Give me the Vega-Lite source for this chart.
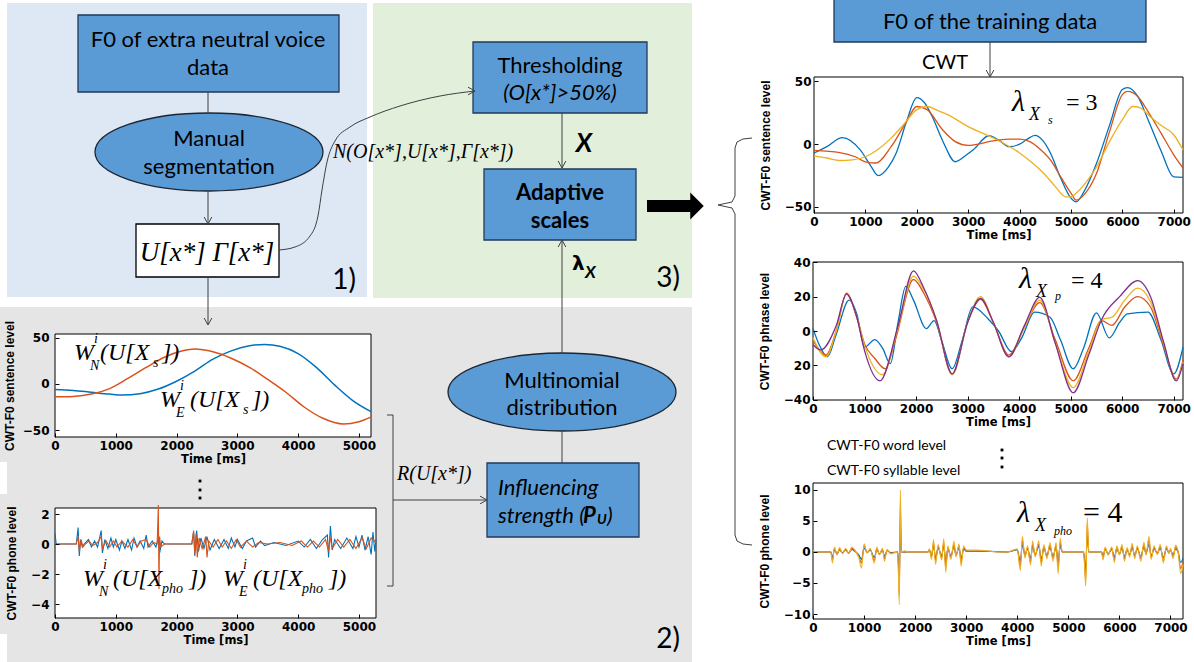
{
"$schema":"https://vega.github.io/schema/vega-lite/v6.json",
"width":1194,"height":662,"padding":0,"autosize":{"type":"none"},
"background":"white",
"config":{"view":{"stroke":null},
 "axis":{"zindex":1,"format":"d","labelFont":"DejaVu Sans","labelFontWeight":"bold","labelFontSize":12,"labelColor":"#000","titleFontWeight":"bold","titleColor":"#000","domain":false,"grid":false,"tickColor":"#000","tickSize":-4,"labelPadding":7,"labelFlush":false,"labelOverlap":false,"titlePadding":2},
 "axisX":{"titleFont":"DejaVu Sans","titleFontSize":11.5},
 "axisY":{"titleFont":"Liberation Sans","titleFontSize":12}},
"resolve":{"scale":{"x":"independent","y":"independent","color":"independent"},"axis":{"x":"independent","y":"independent"}},
"datasets":{
"lt":[{"t":0,"v":-6,"s":"1"},{"t":300,"v":-7,"s":"1"},{"t":600,"v":-9,"s":"1"},{"t":900,"v":-11,"s":"1"},{"t":1100,"v":-12,"s":"1"},{"t":1400,"v":-10.5,"s":"1"},{"t":1700,"v":-5.5,"s":"1"},{"t":2000,"v":3,"s":"1"},{"t":2300,"v":14,"s":"1"},{"t":2600,"v":27,"s":"1"},{"t":2900,"v":36,"s":"1"},{"t":3200,"v":41.5,"s":"1"},{"t":3450,"v":43,"s":"1"},{"t":3700,"v":41,"s":"1"},{"t":4000,"v":33,"s":"1"},{"t":4300,"v":18,"s":"1"},{"t":4600,"v":-1,"s":"1"},{"t":4900,"v":-18,"s":"1"},{"t":5200,"v":-30,"s":"1"},
{"t":0,"v":-14,"s":"2"},{"t":300,"v":-13.5,"s":"2"},{"t":600,"v":-11,"s":"2"},{"t":900,"v":-5,"s":"2"},{"t":1200,"v":6,"s":"2"},{"t":1500,"v":18,"s":"2"},{"t":1800,"v":29,"s":"2"},{"t":2100,"v":36,"s":"2"},{"t":2300,"v":38,"s":"2"},{"t":2600,"v":35,"s":"2"},{"t":2900,"v":28,"s":"2"},{"t":3200,"v":18,"s":"2"},{"t":3500,"v":5,"s":"2"},{"t":3800,"v":-9,"s":"2"},{"t":4100,"v":-25,"s":"2"},{"t":4400,"v":-37,"s":"2"},{"t":4750,"v":-43.5,"s":"2"},{"t":5000,"v":-41,"s":"2"},{"t":5200,"v":-36,"s":"2"}],
"lb":[{"t":0,"v":0.7,"s":"1"},{"t":20,"v":0,"s":"1"},{"t":350,"v":0,"s":"1"},{"t":380,"v":1.1,"s":"1"},{"t":400,"v":-0.8,"s":"1"},{"t":420,"v":0.3,"s":"1"},{"t":450,"v":-0.2,"s":"1"},{"t":480,"v":0,"s":"1"},{"t":550,"v":0.3,"s":"1"},{"t":600,"v":-0.2,"s":"1"},{"t":650,"v":0.2,"s":"1"},{"t":700,"v":-0.2,"s":"1"},{"t":760,"v":0.9,"s":"1"},{"t":780,"v":-0.6,"s":"1"},{"t":820,"v":0.3,"s":"1"},{"t":870,"v":-0.3,"s":"1"},{"t":920,"v":0.4,"s":"1"},{"t":960,"v":-0.2,"s":"1"},{"t":1000,"v":0.3,"s":"1"},{"t":1060,"v":-0.4,"s":"1"},{"t":1100,"v":0.2,"s":"1"},{"t":1150,"v":-0.3,"s":"1"},{"t":1200,"v":0.3,"s":"1"},{"t":1260,"v":-0.4,"s":"1"},{"t":1300,"v":0.4,"s":"1"},{"t":1350,"v":-0.2,"s":"1"},{"t":1400,"v":0.2,"s":"1"},{"t":1460,"v":-0.3,"s":"1"},{"t":1500,"v":0.6,"s":"1"},{"t":1530,"v":-0.2,"s":"1"},{"t":1600,"v":0.2,"s":"1"},{"t":1660,"v":-0.2,"s":"1"},{"t":1700,"v":0.4,"s":"1"},{"t":1720,"v":-0.6,"s":"1"},{"t":1760,"v":0.2,"s":"1"},{"t":1800,"v":0,"s":"1"},{"t":2250,"v":0,"s":"1"},{"t":2280,"v":0.8,"s":"1"},{"t":2300,"v":-0.8,"s":"1"},{"t":2330,"v":0.9,"s":"1"},{"t":2360,"v":-0.5,"s":"1"},{"t":2400,"v":0.4,"s":"1"},{"t":2450,"v":-0.3,"s":"1"},{"t":2500,"v":0.5,"s":"1"},{"t":2550,"v":-0.4,"s":"1"},{"t":2620,"v":0.3,"s":"1"},{"t":2700,"v":-0.3,"s":"1"},{"t":2780,"v":0.3,"s":"1"},{"t":2850,"v":-0.3,"s":"1"},{"t":2900,"v":0.4,"s":"1"},{"t":2960,"v":-0.2,"s":"1"},{"t":3000,"v":0.3,"s":"1"},{"t":3080,"v":-0.3,"s":"1"},{"t":3150,"v":0.2,"s":"1"},{"t":3250,"v":0.4,"s":"1"},{"t":3300,"v":-0.2,"s":"1"},{"t":3380,"v":0.2,"s":"1"},{"t":3450,"v":-0.1,"s":"1"},{"t":3600,"v":0.1,"s":"1"},{"t":3800,"v":-0.1,"s":"1"},{"t":4000,"v":0.2,"s":"1"},{"t":4100,"v":-0.2,"s":"1"},{"t":4200,"v":0.3,"s":"1"},{"t":4300,"v":-0.3,"s":"1"},{"t":4400,"v":0.3,"s":"1"},{"t":4480,"v":0.6,"s":"1"},{"t":4500,"v":-0.9,"s":"1"},{"t":4530,"v":1.2,"s":"1"},{"t":4560,"v":-0.4,"s":"1"},{"t":4600,"v":0.3,"s":"1"},{"t":4700,"v":-0.3,"s":"1"},{"t":4800,"v":0.4,"s":"1"},{"t":4900,"v":-0.3,"s":"1"},{"t":4950,"v":0.5,"s":"1"},{"t":5000,"v":-0.2,"s":"1"},{"t":5050,"v":0.6,"s":"1"},{"t":5100,"v":-0.4,"s":"1"},{"t":5150,"v":0.5,"s":"1"},{"t":5200,"v":-0.7,"s":"1"},{"t":5230,"v":0.8,"s":"1"},{"t":5260,"v":-0.5,"s":"1"},{"t":5280,"v":0.3,"s":"1"},
{"t":0,"v":0,"s":"2"},{"t":350,"v":0,"s":"2"},{"t":380,"v":0.5,"s":"2"},{"t":400,"v":-0.5,"s":"2"},{"t":430,"v":0.3,"s":"2"},{"t":460,"v":-0.2,"s":"2"},{"t":500,"v":0,"s":"2"},{"t":560,"v":0.2,"s":"2"},{"t":620,"v":-0.1,"s":"2"},{"t":700,"v":0.1,"s":"2"},{"t":760,"v":0.5,"s":"2"},{"t":780,"v":-0.3,"s":"2"},{"t":840,"v":0.2,"s":"2"},{"t":900,"v":-0.2,"s":"2"},{"t":960,"v":0.2,"s":"2"},{"t":1020,"v":-0.2,"s":"2"},{"t":1100,"v":0.2,"s":"2"},{"t":1200,"v":-0.2,"s":"2"},{"t":1280,"v":0.3,"s":"2"},{"t":1350,"v":-0.2,"s":"2"},{"t":1420,"v":0.2,"s":"2"},{"t":1500,"v":0.3,"s":"2"},{"t":1560,"v":-0.2,"s":"2"},{"t":1620,"v":0.1,"s":"2"},{"t":1680,"v":0,"s":"2"},{"t":1700,"v":2.6,"s":"2"},{"t":1710,"v":-3,"s":"2"},{"t":1720,"v":0.5,"s":"2"},{"t":1740,"v":-0.2,"s":"2"},{"t":1800,"v":0,"s":"2"},{"t":2250,"v":0,"s":"2"},{"t":2280,"v":0.9,"s":"2"},{"t":2300,"v":-0.6,"s":"2"},{"t":2320,"v":0.7,"s":"2"},{"t":2340,"v":-0.9,"s":"2"},{"t":2370,"v":0.4,"s":"2"},{"t":2420,"v":-0.3,"s":"2"},{"t":2480,"v":0.5,"s":"2"},{"t":2500,"v":-0.9,"s":"2"},{"t":2530,"v":0.2,"s":"2"},{"t":2600,"v":-0.2,"s":"2"},{"t":2680,"v":0.3,"s":"2"},{"t":2750,"v":-0.2,"s":"2"},{"t":2820,"v":0.2,"s":"2"},{"t":2900,"v":-0.3,"s":"2"},{"t":2980,"v":0.3,"s":"2"},{"t":3050,"v":-0.2,"s":"2"},{"t":3150,"v":0.2,"s":"2"},{"t":3250,"v":-0.2,"s":"2"},{"t":3350,"v":0.1,"s":"2"},{"t":3500,"v":0,"s":"2"},{"t":3700,"v":0.1,"s":"2"},{"t":3900,"v":-0.1,"s":"2"},{"t":4050,"v":0.2,"s":"2"},{"t":4150,"v":-0.2,"s":"2"},{"t":4250,"v":0.2,"s":"2"},{"t":4350,"v":-0.2,"s":"2"},{"t":4450,"v":0.3,"s":"2"},{"t":4500,"v":-0.5,"s":"2"},{"t":4520,"v":0.5,"s":"2"},{"t":4560,"v":-0.3,"s":"2"},{"t":4650,"v":0.3,"s":"2"},{"t":4750,"v":-0.2,"s":"2"},{"t":4850,"v":0.3,"s":"2"},{"t":4950,"v":-0.3,"s":"2"},{"t":5050,"v":0.4,"s":"2"},{"t":5120,"v":-0.3,"s":"2"},{"t":5200,"v":0.4,"s":"2"},{"t":5280,"v":0.1,"s":"2"}],
"rt":[{"t":0,"v":-7,"s":"1"},{"t":250,"v":-2,"s":"1"},{"t":550,"v":5.3,"s":"1"},{"t":900,"v":-4.5,"s":"1"},{"t":1100,"v":-17,"s":"1"},{"t":1250,"v":-25,"s":"1"},{"t":1450,"v":-18,"s":"1"},{"t":1600,"v":-7,"s":"1"},{"t":1800,"v":18,"s":"1"},{"t":2000,"v":37,"s":"1"},{"t":2150,"v":33,"s":"1"},{"t":2300,"v":22,"s":"1"},{"t":2500,"v":3,"s":"1"},{"t":2750,"v":-14,"s":"1"},{"t":2950,"v":-9,"s":"1"},{"t":3100,"v":-4.5,"s":"1"},{"t":3400,"v":6.7,"s":"1"},{"t":3600,"v":3,"s":"1"},{"t":3800,"v":-2,"s":"1"},{"t":4000,"v":0,"s":"1"},{"t":4150,"v":4,"s":"1"},{"t":4300,"v":7,"s":"1"},{"t":4450,"v":3,"s":"1"},{"t":4600,"v":-7,"s":"1"},{"t":4800,"v":-27,"s":"1"},{"t":5000,"v":-43,"s":"1"},{"t":5100,"v":-46,"s":"1"},{"t":5250,"v":-38,"s":"1"},{"t":5500,"v":-15,"s":"1"},{"t":5750,"v":15,"s":"1"},{"t":6000,"v":43.5,"s":"1"},{"t":6100,"v":45,"s":"1"},{"t":6300,"v":38,"s":"1"},{"t":6500,"v":19.5,"s":"1"},{"t":6750,"v":-5,"s":"1"},{"t":7000,"v":-26,"s":"1"},{"t":7180,"v":-26.4,"s":"1"},
{"t":0,"v":-5,"s":"2"},{"t":500,"v":-6.7,"s":"2"},{"t":800,"v":-10,"s":"2"},{"t":1000,"v":-14,"s":"2"},{"t":1200,"v":-15,"s":"2"},{"t":1500,"v":-2,"s":"2"},{"t":1800,"v":18,"s":"2"},{"t":2000,"v":30,"s":"2"},{"t":2200,"v":27.5,"s":"2"},{"t":2500,"v":11.5,"s":"2"},{"t":2750,"v":2,"s":"2"},{"t":3000,"v":-1,"s":"2"},{"t":3200,"v":0,"s":"2"},{"t":3400,"v":2,"s":"2"},{"t":3800,"v":4,"s":"2"},{"t":4000,"v":4,"s":"2"},{"t":4200,"v":2,"s":"2"},{"t":4400,"v":-4,"s":"2"},{"t":4600,"v":-12.5,"s":"2"},{"t":4800,"v":-26,"s":"2"},{"t":5000,"v":-39,"s":"2"},{"t":5100,"v":-44.5,"s":"2"},{"t":5300,"v":-38,"s":"2"},{"t":5500,"v":-23,"s":"2"},{"t":5750,"v":10,"s":"2"},{"t":6000,"v":39.5,"s":"2"},{"t":6100,"v":42,"s":"2"},{"t":6300,"v":38,"s":"2"},{"t":6500,"v":26,"s":"2"},{"t":6750,"v":9,"s":"2"},{"t":7000,"v":-8.5,"s":"2"},{"t":7180,"v":-19,"s":"2"},
{"t":0,"v":-9.3,"s":"3"},{"t":250,"v":-11,"s":"3"},{"t":500,"v":-13,"s":"3"},{"t":750,"v":-12.5,"s":"3"},{"t":1000,"v":-10,"s":"3"},{"t":1250,"v":-4,"s":"3"},{"t":1500,"v":4.8,"s":"3"},{"t":1750,"v":16,"s":"3"},{"t":2000,"v":27.5,"s":"3"},{"t":2200,"v":30,"s":"3"},{"t":2400,"v":27,"s":"3"},{"t":2600,"v":23.5,"s":"3"},{"t":3000,"v":14,"s":"3"},{"t":3500,"v":4.8,"s":"3"},{"t":4000,"v":-7,"s":"3"},{"t":4250,"v":-15,"s":"3"},{"t":4500,"v":-24.5,"s":"3"},{"t":4700,"v":-34,"s":"3"},{"t":4900,"v":-42,"s":"3"},{"t":5000,"v":-42,"s":"3"},{"t":5100,"v":-39,"s":"3"},{"t":5300,"v":-30,"s":"3"},{"t":5500,"v":-18,"s":"3"},{"t":5750,"v":2,"s":"3"},{"t":6000,"v":19.5,"s":"3"},{"t":6200,"v":30,"s":"3"},{"t":6350,"v":29,"s":"3"},{"t":6500,"v":23.5,"s":"3"},{"t":6750,"v":15,"s":"3"},{"t":7000,"v":7.5,"s":"3"},{"t":7180,"v":-4.5,"s":"3"}],
"rm":[{"t":0,"v":1.4,"s":"1"},{"t":120,"v":-8,"s":"1"},{"t":280,"v":-15,"s":"1"},{"t":450,"v":-2,"s":"1"},{"t":700,"v":18,"s":"1"},{"t":850,"v":10,"s":"1"},{"t":1000,"v":-9.4,"s":"1"},{"t":1200,"v":-5,"s":"1"},{"t":1350,"v":-10,"s":"1"},{"t":1500,"v":-19,"s":"1"},{"t":1650,"v":5,"s":"1"},{"t":1800,"v":26,"s":"1"},{"t":1950,"v":18,"s":"1"},{"t":2200,"v":1.4,"s":"1"},{"t":2350,"v":6,"s":"1"},{"t":2500,"v":-6,"s":"1"},{"t":2700,"v":-22,"s":"1"},{"t":2900,"v":-5,"s":"1"},{"t":3100,"v":14,"s":"1"},{"t":3400,"v":7,"s":"1"},{"t":3600,"v":0,"s":"1"},{"t":3850,"v":-12,"s":"1"},{"t":4050,"v":-4,"s":"1"},{"t":4300,"v":11,"s":"1"},{"t":4600,"v":8,"s":"1"},{"t":4800,"v":-5,"s":"1"},{"t":5050,"v":-22,"s":"1"},{"t":5250,"v":-10,"s":"1"},{"t":5500,"v":10.6,"s":"1"},{"t":5750,"v":-4,"s":"1"},{"t":5950,"v":5,"s":"1"},{"t":6100,"v":10,"s":"1"},{"t":6500,"v":11,"s":"1"},{"t":6750,"v":-5,"s":"1"},{"t":7000,"v":-25,"s":"1"},{"t":7180,"v":-9.4,"s":"1"},
{"t":0,"v":-5.5,"s":"2"},{"t":250,"v":-14,"s":"2"},{"t":450,"v":0,"s":"2"},{"t":650,"v":22,"s":"2"},{"t":850,"v":8,"s":"2"},{"t":1000,"v":-7.5,"s":"2"},{"t":1200,"v":-16,"s":"2"},{"t":1400,"v":-22,"s":"2"},{"t":1600,"v":-5,"s":"2"},{"t":1950,"v":30,"s":"2"},{"t":2150,"v":22,"s":"2"},{"t":2400,"v":5,"s":"2"},{"t":2700,"v":-25,"s":"2"},{"t":3000,"v":5,"s":"2"},{"t":3250,"v":18.4,"s":"2"},{"t":3500,"v":5,"s":"2"},{"t":3800,"v":-14,"s":"2"},{"t":4100,"v":2,"s":"2"},{"t":4400,"v":16.5,"s":"2"},{"t":4700,"v":-5,"s":"2"},{"t":5050,"v":-29,"s":"2"},{"t":5350,"v":-10,"s":"2"},{"t":5600,"v":6,"s":"2"},{"t":5800,"v":3.3,"s":"2"},{"t":6050,"v":14,"s":"2"},{"t":6300,"v":20,"s":"2"},{"t":6550,"v":14,"s":"2"},{"t":6800,"v":-8,"s":"2"},{"t":7050,"v":-28,"s":"2"},{"t":7180,"v":-17,"s":"2"},
{"t":0,"v":-4,"s":"3"},{"t":250,"v":-15,"s":"3"},{"t":450,"v":0,"s":"3"},{"t":650,"v":21.5,"s":"3"},{"t":850,"v":8,"s":"3"},{"t":1000,"v":-8.4,"s":"3"},{"t":1350,"v":-25.5,"s":"3"},{"t":1650,"v":2,"s":"3"},{"t":1950,"v":32,"s":"3"},{"t":2150,"v":24,"s":"3"},{"t":2400,"v":6,"s":"3"},{"t":2700,"v":-25.5,"s":"3"},{"t":3000,"v":5,"s":"3"},{"t":3250,"v":20,"s":"3"},{"t":3500,"v":5,"s":"3"},{"t":3800,"v":-15,"s":"3"},{"t":4100,"v":2,"s":"3"},{"t":4400,"v":18,"s":"3"},{"t":4700,"v":-7,"s":"3"},{"t":5050,"v":-33,"s":"3"},{"t":5350,"v":-12,"s":"3"},{"t":5600,"v":6.7,"s":"3"},{"t":5800,"v":8,"s":"3"},{"t":6050,"v":18,"s":"3"},{"t":6300,"v":25,"s":"3"},{"t":6550,"v":17,"s":"3"},{"t":6800,"v":-7,"s":"3"},{"t":7050,"v":-28.6,"s":"3"},{"t":7180,"v":-18,"s":"3"},
{"t":0,"v":-8,"s":"4"},{"t":150,"v":-11,"s":"4"},{"t":450,"v":3,"s":"4"},{"t":650,"v":21.5,"s":"4"},{"t":850,"v":8,"s":"4"},{"t":1000,"v":-11.4,"s":"4"},{"t":1300,"v":-29,"s":"4"},{"t":1650,"v":3,"s":"4"},{"t":1950,"v":35,"s":"4"},{"t":2150,"v":25,"s":"4"},{"t":2400,"v":6,"s":"4"},{"t":2700,"v":-25,"s":"4"},{"t":3000,"v":5,"s":"4"},{"t":3250,"v":19,"s":"4"},{"t":3500,"v":5,"s":"4"},{"t":3800,"v":-15,"s":"4"},{"t":4100,"v":3,"s":"4"},{"t":4400,"v":19.6,"s":"4"},{"t":4700,"v":-7,"s":"4"},{"t":5050,"v":-36,"s":"4"},{"t":5350,"v":-14,"s":"4"},{"t":5600,"v":6.7,"s":"4"},{"t":5950,"v":20,"s":"4"},{"t":6300,"v":29.4,"s":"4"},{"t":6550,"v":20,"s":"4"},{"t":6800,"v":-6,"s":"4"},{"t":7050,"v":-29,"s":"4"},{"t":7180,"v":-19,"s":"4"}],
"rb":[{"t":0,"v":0.1,"s":"1"},{"t":50,"v":0,"s":"1"},{"t":350,"v":0,"s":"1"},{"t":380,"v":-0.9,"s":"1"},{"t":420,"v":0.4,"s":"1"},{"t":470,"v":-0.3,"s":"1"},{"t":520,"v":0.3,"s":"1"},{"t":580,"v":-0.1,"s":"1"},{"t":640,"v":0.3,"s":"1"},{"t":700,"v":-0.2,"s":"1"},{"t":760,"v":0.4,"s":"1"},{"t":820,"v":0.1,"s":"1"},{"t":900,"v":-0.5,"s":"1"},{"t":950,"v":-1.2,"s":"1"},{"t":1000,"v":0.6,"s":"1"},{"t":1060,"v":-0.1,"s":"1"},{"t":1120,"v":0.3,"s":"1"},{"t":1200,"v":-0.9,"s":"1"},{"t":1250,"v":0.4,"s":"1"},{"t":1300,"v":-0.3,"s":"1"},{"t":1360,"v":0.3,"s":"1"},{"t":1400,"v":-0.7,"s":"1"},{"t":1450,"v":0.2,"s":"1"},{"t":1520,"v":-0.1,"s":"1"},{"t":1660,"v":0,"s":"1"},{"t":1690,"v":-4.5,"s":"1"},{"t":1710,"v":5,"s":"1"},{"t":1730,"v":0,"s":"1"},{"t":2250,"v":0,"s":"1"},{"t":2280,"v":0.3,"s":"1"},{"t":2320,"v":-0.6,"s":"1"},{"t":2360,"v":1,"s":"1"},{"t":2400,"v":-1,"s":"1"},{"t":2450,"v":0.6,"s":"1"},{"t":2520,"v":-0.6,"s":"1"},{"t":2560,"v":1,"s":"1"},{"t":2600,"v":-1.6,"s":"1"},{"t":2640,"v":0.5,"s":"1"},{"t":2700,"v":-0.6,"s":"1"},{"t":2760,"v":0.8,"s":"1"},{"t":2800,"v":-0.4,"s":"1"},{"t":2860,"v":0.6,"s":"1"},{"t":2900,"v":-1.1,"s":"1"},{"t":2950,"v":0.5,"s":"1"},{"t":3000,"v":0.1,"s":"1"},{"t":3400,"v":0.1,"s":"1"},{"t":3800,"v":0,"s":"1"},{"t":4000,"v":0.3,"s":"1"},{"t":4060,"v":-1.5,"s":"1"},{"t":4100,"v":1.2,"s":"1"},{"t":4150,"v":-0.5,"s":"1"},{"t":4200,"v":0.5,"s":"1"},{"t":4260,"v":-1,"s":"1"},{"t":4300,"v":0.9,"s":"1"},{"t":4350,"v":-0.4,"s":"1"},{"t":4420,"v":0.9,"s":"1"},{"t":4470,"v":-1.1,"s":"1"},{"t":4520,"v":0.6,"s":"1"},{"t":4580,"v":-0.5,"s":"1"},{"t":4640,"v":0.7,"s":"1"},{"t":4700,"v":-0.7,"s":"1"},{"t":4760,"v":0.7,"s":"1"},{"t":4800,"v":-1.7,"s":"1"},{"t":4840,"v":1,"s":"1"},{"t":4880,"v":0,"s":"1"},{"t":5300,"v":0,"s":"1"},{"t":5340,"v":-3,"s":"1"},{"t":5370,"v":3,"s":"1"},{"t":5400,"v":0,"s":"1"},{"t":5650,"v":0,"s":"1"},{"t":5680,"v":-0.6,"s":"1"},{"t":5720,"v":0.4,"s":"1"},{"t":5780,"v":-0.3,"s":"1"},{"t":5850,"v":0.4,"s":"1"},{"t":5900,"v":-0.8,"s":"1"},{"t":5950,"v":0.5,"s":"1"},{"t":6000,"v":-0.3,"s":"1"},{"t":6050,"v":0.6,"s":"1"},{"t":6100,"v":-0.7,"s":"1"},{"t":6150,"v":0.3,"s":"1"},{"t":6200,"v":-0.4,"s":"1"},{"t":6250,"v":0.7,"s":"1"},{"t":6300,"v":-0.5,"s":"1"},{"t":6350,"v":0.5,"s":"1"},{"t":6420,"v":-0.7,"s":"1"},{"t":6480,"v":0.8,"s":"1"},{"t":6520,"v":-0.2,"s":"1"},{"t":6580,"v":1.2,"s":"1"},{"t":6620,"v":-0.6,"s":"1"},{"t":6680,"v":0.5,"s":"1"},{"t":6740,"v":-0.2,"s":"1"},{"t":6800,"v":0.6,"s":"1"},{"t":6860,"v":-0.9,"s":"1"},{"t":6920,"v":0.5,"s":"1"},{"t":6970,"v":-0.1,"s":"1"},{"t":7000,"v":0.3,"s":"1"},{"t":7050,"v":-0.5,"s":"1"},{"t":7100,"v":0.5,"s":"1"},{"t":7150,"v":0,"s":"1"},{"t":7200,"v":-1.7,"s":"1"},{"t":7245,"v":-1,"s":"1"},
{"t":0,"v":0.2,"s":"2"},{"t":50,"v":0,"s":"2"},{"t":350,"v":0,"s":"2"},{"t":380,"v":-1.4,"s":"2"},{"t":420,"v":0.6,"s":"2"},{"t":470,"v":-0.4,"s":"2"},{"t":520,"v":0.5,"s":"2"},{"t":580,"v":-0.2,"s":"2"},{"t":640,"v":0.4,"s":"2"},{"t":700,"v":-0.2,"s":"2"},{"t":760,"v":0.6,"s":"2"},{"t":820,"v":0.2,"s":"2"},{"t":900,"v":-0.8,"s":"2"},{"t":950,"v":-1.8,"s":"2"},{"t":1000,"v":1,"s":"2"},{"t":1060,"v":-0.1,"s":"2"},{"t":1120,"v":0.4,"s":"2"},{"t":1200,"v":-1.4,"s":"2"},{"t":1250,"v":0.6,"s":"2"},{"t":1300,"v":-0.4,"s":"2"},{"t":1360,"v":0.4,"s":"2"},{"t":1400,"v":-1.1,"s":"2"},{"t":1450,"v":0.3,"s":"2"},{"t":1520,"v":-0.2,"s":"2"},{"t":1660,"v":0,"s":"2"},{"t":1690,"v":-7,"s":"2"},{"t":1710,"v":8,"s":"2"},{"t":1730,"v":0,"s":"2"},{"t":2250,"v":0,"s":"2"},{"t":2280,"v":0.4,"s":"2"},{"t":2320,"v":-0.9,"s":"2"},{"t":2360,"v":1.5,"s":"2"},{"t":2400,"v":-1.5,"s":"2"},{"t":2450,"v":0.9,"s":"2"},{"t":2520,"v":-1,"s":"2"},{"t":2560,"v":1.6,"s":"2"},{"t":2600,"v":-2.5,"s":"2"},{"t":2640,"v":0.7,"s":"2"},{"t":2700,"v":-0.9,"s":"2"},{"t":2760,"v":1.2,"s":"2"},{"t":2800,"v":-0.6,"s":"2"},{"t":2860,"v":1,"s":"2"},{"t":2900,"v":-1.7,"s":"2"},{"t":2950,"v":0.7,"s":"2"},{"t":3000,"v":0.2,"s":"2"},{"t":3400,"v":0.1,"s":"2"},{"t":3800,"v":0,"s":"2"},{"t":4000,"v":0.4,"s":"2"},{"t":4060,"v":-2.3,"s":"2"},{"t":4100,"v":1.9,"s":"2"},{"t":4150,"v":-0.7,"s":"2"},{"t":4200,"v":0.7,"s":"2"},{"t":4260,"v":-1.6,"s":"2"},{"t":4300,"v":1.3,"s":"2"},{"t":4350,"v":-0.6,"s":"2"},{"t":4420,"v":1.3,"s":"2"},{"t":4470,"v":-1.7,"s":"2"},{"t":4520,"v":0.9,"s":"2"},{"t":4580,"v":-0.8,"s":"2"},{"t":4640,"v":1.1,"s":"2"},{"t":4700,"v":-1.1,"s":"2"},{"t":4760,"v":1.1,"s":"2"},{"t":4800,"v":-2.6,"s":"2"},{"t":4840,"v":1.6,"s":"2"},{"t":4880,"v":0,"s":"2"},{"t":5300,"v":0,"s":"2"},{"t":5340,"v":-4.5,"s":"2"},{"t":5370,"v":4.5,"s":"2"},{"t":5400,"v":0,"s":"2"},{"t":5650,"v":0,"s":"2"},{"t":5680,"v":-1,"s":"2"},{"t":5720,"v":0.6,"s":"2"},{"t":5780,"v":-0.4,"s":"2"},{"t":5850,"v":0.6,"s":"2"},{"t":5900,"v":-1.3,"s":"2"},{"t":5950,"v":0.7,"s":"2"},{"t":6000,"v":-0.4,"s":"2"},{"t":6050,"v":0.9,"s":"2"},{"t":6100,"v":-1.1,"s":"2"},{"t":6150,"v":0.5,"s":"2"},{"t":6200,"v":-0.6,"s":"2"},{"t":6250,"v":1,"s":"2"},{"t":6300,"v":-0.8,"s":"2"},{"t":6350,"v":0.7,"s":"2"},{"t":6420,"v":-1.1,"s":"2"},{"t":6480,"v":1.2,"s":"2"},{"t":6520,"v":-0.4,"s":"2"},{"t":6580,"v":1.9,"s":"2"},{"t":6620,"v":-0.9,"s":"2"},{"t":6680,"v":0.7,"s":"2"},{"t":6740,"v":-0.3,"s":"2"},{"t":6800,"v":0.9,"s":"2"},{"t":6860,"v":-1.4,"s":"2"},{"t":6920,"v":0.7,"s":"2"},{"t":6970,"v":-0.2,"s":"2"},{"t":7000,"v":0.4,"s":"2"},{"t":7050,"v":-0.8,"s":"2"},{"t":7100,"v":0.8,"s":"2"},{"t":7150,"v":0,"s":"2"},{"t":7200,"v":-2.7,"s":"2"},{"t":7245,"v":-1.5,"s":"2"},
{"t":0,"v":0.3,"s":"3"},{"t":50,"v":0,"s":"3"},{"t":350,"v":0,"s":"3"},{"t":380,"v":-1.8,"s":"3"},{"t":420,"v":0.8,"s":"3"},{"t":470,"v":-0.5,"s":"3"},{"t":520,"v":0.7,"s":"3"},{"t":580,"v":-0.3,"s":"3"},{"t":640,"v":0.6,"s":"3"},{"t":700,"v":-0.3,"s":"3"},{"t":760,"v":0.8,"s":"3"},{"t":820,"v":0.3,"s":"3"},{"t":900,"v":-1,"s":"3"},{"t":950,"v":-2.6,"s":"3"},{"t":1000,"v":1.3,"s":"3"},{"t":1060,"v":-0.2,"s":"3"},{"t":1120,"v":0.6,"s":"3"},{"t":1200,"v":-1.8,"s":"3"},{"t":1250,"v":0.8,"s":"3"},{"t":1300,"v":-0.5,"s":"3"},{"t":1360,"v":0.6,"s":"3"},{"t":1400,"v":-1.5,"s":"3"},{"t":1450,"v":0.4,"s":"3"},{"t":1520,"v":-0.3,"s":"3"},{"t":1660,"v":0,"s":"3"},{"t":1690,"v":-8.5,"s":"3"},{"t":1710,"v":10,"s":"3"},{"t":1730,"v":0,"s":"3"},{"t":1800,"v":0.2,"s":"3"},{"t":1850,"v":0,"s":"3"},{"t":2250,"v":0,"s":"3"},{"t":2280,"v":0.5,"s":"3"},{"t":2320,"v":-1.2,"s":"3"},{"t":2360,"v":2,"s":"3"},{"t":2400,"v":-2,"s":"3"},{"t":2450,"v":1.2,"s":"3"},{"t":2520,"v":-1.3,"s":"3"},{"t":2560,"v":2.1,"s":"3"},{"t":2600,"v":-3.3,"s":"3"},{"t":2640,"v":1,"s":"3"},{"t":2700,"v":-1.2,"s":"3"},{"t":2760,"v":1.7,"s":"3"},{"t":2800,"v":-0.8,"s":"3"},{"t":2860,"v":1.3,"s":"3"},{"t":2900,"v":-2.3,"s":"3"},{"t":2950,"v":1,"s":"3"},{"t":3000,"v":0.3,"s":"3"},{"t":3200,"v":0.3,"s":"3"},{"t":3400,"v":0.2,"s":"3"},{"t":3600,"v":0,"s":"3"},{"t":3800,"v":0,"s":"3"},{"t":4000,"v":0.5,"s":"3"},{"t":4060,"v":-3,"s":"3"},{"t":4100,"v":2.5,"s":"3"},{"t":4150,"v":-1,"s":"3"},{"t":4200,"v":1,"s":"3"},{"t":4260,"v":-2.1,"s":"3"},{"t":4300,"v":1.8,"s":"3"},{"t":4350,"v":-0.8,"s":"3"},{"t":4420,"v":1.8,"s":"3"},{"t":4470,"v":-2.3,"s":"3"},{"t":4520,"v":1.2,"s":"3"},{"t":4580,"v":-1.1,"s":"3"},{"t":4640,"v":1.5,"s":"3"},{"t":4700,"v":-1.5,"s":"3"},{"t":4760,"v":1.5,"s":"3"},{"t":4800,"v":-3.5,"s":"3"},{"t":4840,"v":2.2,"s":"3"},{"t":4880,"v":0,"s":"3"},{"t":5300,"v":0,"s":"3"},{"t":5340,"v":-5.5,"s":"3"},{"t":5370,"v":5.5,"s":"3"},{"t":5400,"v":0,"s":"3"},{"t":5650,"v":0,"s":"3"},{"t":5680,"v":-1.3,"s":"3"},{"t":5720,"v":0.8,"s":"3"},{"t":5780,"v":-0.5,"s":"3"},{"t":5850,"v":0.8,"s":"3"},{"t":5900,"v":-1.7,"s":"3"},{"t":5950,"v":1,"s":"3"},{"t":6000,"v":-0.5,"s":"3"},{"t":6050,"v":1.2,"s":"3"},{"t":6100,"v":-1.5,"s":"3"},{"t":6150,"v":0.7,"s":"3"},{"t":6200,"v":-0.8,"s":"3"},{"t":6250,"v":1.4,"s":"3"},{"t":6300,"v":-1.1,"s":"3"},{"t":6350,"v":1,"s":"3"},{"t":6420,"v":-1.5,"s":"3"},{"t":6480,"v":1.6,"s":"3"},{"t":6520,"v":-0.5,"s":"3"},{"t":6580,"v":2.5,"s":"3"},{"t":6620,"v":-1.2,"s":"3"},{"t":6680,"v":1,"s":"3"},{"t":6740,"v":-0.4,"s":"3"},{"t":6800,"v":1.2,"s":"3"},{"t":6860,"v":-1.8,"s":"3"},{"t":6920,"v":1,"s":"3"},{"t":6970,"v":-0.3,"s":"3"},{"t":7000,"v":0.6,"s":"3"},{"t":7050,"v":-1.1,"s":"3"},{"t":7100,"v":1.1,"s":"3"},{"t":7150,"v":0,"s":"3"},{"t":7200,"v":-3.5,"s":"3"},{"t":7245,"v":-2,"s":"3"}]
},
"layer":[
{"encoding":{"x":{"field":"x","type":"quantitative","scale":{"domain":[0,1194],"range":[0,1194],"nice":false,"zero":false},"axis":null},"y":{"field":"y","type":"quantitative","scale":{"domain":[0,662],"range":[0,662],"nice":false,"zero":false},"axis":null}},
 "layer":[
  {"data":{"values":[{"x":7,"x2":367,"y":3,"y2":297}]},"mark":{"type":"rect","fill":"#dde8f4"},"encoding":{"x2":{"field":"x2"},"y2":{"field":"y2"}}},
  {"data":{"values":[{"x":373,"x2":692,"y":3,"y2":298}]},"mark":{"type":"rect","fill":"#e2efda"},"encoding":{"x2":{"field":"x2"},"y2":{"field":"y2"}}},
  {"data":{"values":[{"x":0,"x2":692,"y":307,"y2":662}]},"mark":{"type":"rect","fill":"#e5e5e5"},"encoding":{"x2":{"field":"x2"},"y2":{"field":"y2"}}},
  {"data":{"values":[{"x":0,"x2":7,"y":462,"y2":494},{"x":0,"x2":7,"y":634,"y2":662}]},"mark":{"type":"rect","fill":"#ffffff"},"encoding":{"x2":{"field":"x2"},"y2":{"field":"y2"}}},
  {"data":{"values":[{"x":55,"x2":371,"y":334,"y2":437},{"x":55,"x2":376,"y":508,"y2":618},{"x":814,"x2":1183,"y":77,"y2":213},{"x":813,"x2":1183,"y":262,"y2":400},{"x":813,"x2":1183,"y":483,"y2":619}]},"mark":{"type":"rect","fill":"#ffffff","stroke":"#000000","strokeWidth":1},"encoding":{"x2":{"field":"x2"},"y2":{"field":"y2"}}}
 ]},
{"data":{"name":"lt"},"mark":{"type":"line","interpolate":"monotone","strokeWidth":1.5},
 "encoding":{"x":{"field":"t","type":"quantitative","scale":{"domain":[0,5200],"range":[55,371],"nice":false,"zero":false},"axis":{"orient":"bottom","offset":-225,"zindex":1,"values":[0,1000,2000,3000,4000,5000],"title":"Time [ms]"}},
  "y":{"field":"v","type":"quantitative","scale":{"domain":[-57.6,54.3],"range":[437,334],"nice":false,"zero":false},"axis":{"orient":"left","offset":-55,"zindex":1,"labelPadding":10,"values":[-50,0,50],"title":"CWT-F0 sentence level","titlePadding":6}},
  "color":{"field":"s","type":"nominal","scale":{"domain":["1","2"],"range":["#0072bd","#d95319"]},"legend":null}}},
{"data":{"name":"lb"},"mark":{"type":"line","strokeWidth":1.1},
 "encoding":{"x":{"field":"t","type":"quantitative","scale":{"domain":[0,5280],"range":[55,376],"nice":false,"zero":false},"axis":{"orient":"bottom","offset":-44,"zindex":1,"values":[0,1000,2000,3000,4000,5000],"title":"Time [ms]"}},
  "y":{"field":"v","type":"quantitative","scale":{"domain":[-4.93,2.4],"range":[618,508],"nice":false,"zero":false},"axis":{"orient":"left","offset":-55,"zindex":1,"labelPadding":10,"values":[-4,-2,0,2],"title":"CWT-F0 phone level","titlePadding":12}},
  "color":{"field":"s","type":"nominal","scale":{"domain":["1","2"],"range":["#0072bd","#d95319"]},"legend":null}}},
{"data":{"name":"rt"},"mark":{"type":"line","interpolate":"monotone","strokeWidth":1.3},
 "encoding":{"x":{"field":"t","type":"quantitative","scale":{"domain":[0,7180],"range":[814,1183],"nice":false,"zero":false},"axis":{"orient":"bottom","offset":-449,"zindex":1,"values":[0,1000,2000,3000,4000,5000,6000,7000],"title":"Time [ms]"}},
  "y":{"field":"v","type":"quantitative","scale":{"domain":[-54.8,53.5],"range":[213,77],"nice":false,"zero":false},"axis":{"orient":"left","offset":-814,"zindex":1,"labelPadding":7,"values":[-50,0,50],"title":"CWT-F0 sentence level","titlePadding":12}},
  "color":{"field":"s","type":"nominal","scale":{"domain":["1","2","3"],"range":["#0072bd","#d95319","#edb120"]},"legend":null}}},
{"data":{"name":"rm"},"mark":{"type":"line","interpolate":"monotone","strokeWidth":1.3},
 "encoding":{"x":{"field":"t","type":"quantitative","scale":{"domain":[0,7180],"range":[813,1183],"nice":false,"zero":false},"axis":{"orient":"bottom","offset":-262,"zindex":1,"values":[0,1000,2000,3000,4000,5000,6000,7000],"title":"Time [ms]"}},
  "y":{"field":"v","type":"quantitative","scale":{"domain":[-40.2,40.2],"range":[400,262],"nice":false,"zero":false},"axis":{"orient":"left","offset":-813,"zindex":1,"labelPadding":7,"values":[-40,-20,0,20,40],"labelExpr":"datum.value == -20 ? '20' : datum.label","title":"CWT-F0 phrase level","titlePadding":12}},
  "color":{"field":"s","type":"nominal","scale":{"domain":["1","2","3","4"],"range":["#0072bd","#d95319","#edb120","#7e2f8e"]},"legend":null}}},
{"data":{"name":"rb"},"mark":{"type":"line","interpolate":"monotone","strokeWidth":1.1},
 "encoding":{"x":{"field":"t","type":"quantitative","scale":{"domain":[0,7245],"range":[813,1183],"nice":false,"zero":false},"axis":{"orient":"bottom","offset":-43,"zindex":1,"values":[0,1000,2000,3000,4000,5000,6000,7000],"title":"Time [ms]"}},
  "y":{"field":"v","type":"quantitative","scale":{"domain":[-10.8,11.1],"range":[619,483],"nice":false,"zero":false},"axis":{"orient":"left","offset":-813,"zindex":1,"labelPadding":7,"values":[-10,-5,0,5,10],"title":"CWT-F0 phone level","titlePadding":12}},
  "color":{"field":"s","type":"nominal","scale":{"domain":["1","2","3"],"range":["#0072bd","#d95319","#edb120"]},"legend":null}}},
{"encoding":{"x":{"field":"x","type":"quantitative","scale":{"domain":[0,1194],"range":[0,1194],"nice":false,"zero":false},"axis":null},"y":{"field":"y","type":"quantitative","scale":{"domain":[0,662],"range":[0,662],"nice":false,"zero":false},"axis":null}},
 "layer":[
  {"data":{"values":[{"x":78,"x2":339,"y":15,"y2":92},{"x":473,"x2":647,"y":42,"y2":113},{"x":484,"x2":636,"y":169,"y2":240},{"x":487,"x2":639,"y":463,"y2":537},{"x":834,"x2":1146,"y":-2,"y2":42}]},"mark":{"type":"rect","fill":"#5b9bd5","stroke":"#1f3a5c","strokeWidth":1.3},"encoding":{"x2":{"field":"x2"},"y2":{"field":"y2"}}},
  {"data":{"values":[{"x":136,"x2":279,"y":224,"y2":277}]},"mark":{"type":"rect","fill":"#ffffff","stroke":"#000000","strokeWidth":1.3},"encoding":{"x2":{"field":"x2"},"y2":{"field":"y2"}}},
  {"data":{"values":[{"x":209,"y":152},{"x":562,"y":392}]},"mark":{"type":"point","filled":true,"fill":"#5b9bd5","stroke":"#1c2633","strokeWidth":1.3,"opacity":1,"size":51984,"shape":"M-1,0 C-1,-0.189 -0.552,-0.342 0,-0.342 C0.552,-0.342 1,-0.189 1,0 C1,0.189 0.552,0.342 0,0.342 C-0.552,0.342 -1,0.189 -1,0 Z"}},
  {"data":{"values":[{"id":"a","o":1,"x":208,"y":92},{"id":"a","o":2,"x":208,"y":113},{"id":"b","o":1,"x":208,"y":191},{"id":"b","o":2,"x":208,"y":224},{"id":"c","o":1,"x":208,"y":277},{"id":"c","o":2,"x":208,"y":325},{"id":"d","o":1,"x":562,"y":113},{"id":"d","o":2,"x":562,"y":168},{"id":"e","o":1,"x":562,"y":240},{"id":"e","o":2,"x":562,"y":353},{"id":"f","o":1,"x":562,"y":431},{"id":"f","o":2,"x":562,"y":463},{"id":"g","o":1,"x":393,"y":500},{"id":"g","o":2,"x":487,"y":500},{"id":"h","o":1,"x":387,"y":415},{"id":"h","o":2,"x":393,"y":415},{"id":"h","o":3,"x":393,"y":586},{"id":"h","o":4,"x":387,"y":586},{"id":"i","o":1,"x":990,"y":42},{"id":"i","o":2,"x":990,"y":77},
   {"id":"j","o":1,"x":752,"y":138},{"id":"j","o":2,"x":743,"y":139},{"id":"j","o":3,"x":737,"y":142},{"id":"j","o":4,"x":735,"y":148},{"id":"j","o":5,"x":735,"y":196},{"id":"j","o":6,"x":732,"y":202},{"id":"j","o":7,"x":718,"y":205},{"id":"j","o":8,"x":732,"y":208},{"id":"j","o":9,"x":735,"y":214},{"id":"j","o":10,"x":735,"y":535},{"id":"j","o":11,"x":737,"y":541},{"id":"j","o":12,"x":743,"y":544},{"id":"j","o":13,"x":752,"y":545}]},
   "mark":{"type":"line","color":"#404040","strokeWidth":1},"encoding":{"detail":{"field":"id"},"order":{"field":"o"}}},
  {"data":{"values":[{"x":279,"y":250},{"x":295,"y":247},{"x":310,"y":236},{"x":318,"y":216},{"x":322,"y":190},{"x":327,"y":162},{"x":335,"y":141},{"x":350,"y":127},{"x":370,"y":117},{"x":400,"y":106},{"x":440,"y":96},{"x":475,"y":91}]},"mark":{"type":"line","interpolate":"monotone","color":"#404040","strokeWidth":1}},
  {"data":{"values":[{"x":208,"y":224},{"x":208,"y":325},{"x":562,"y":168},{"x":990,"y":77}]},"mark":{"type":"point","filled":false,"stroke":"#404040","strokeWidth":1,"opacity":1,"size":196,"shape":"M-0.55,-1 L0,0 L0.55,-1"}},
  {"data":{"values":[{"x":562,"y":240}]},"mark":{"type":"point","filled":false,"stroke":"#404040","strokeWidth":1,"opacity":1,"size":196,"shape":"M-0.55,1 L0,0 L0.55,1"}},
  {"data":{"values":[{"x":475,"y":91},{"x":487,"y":500}]},"mark":{"type":"point","filled":false,"stroke":"#404040","strokeWidth":1,"opacity":1,"size":196,"shape":"M-1,-0.55 L0,0 L-1,0.55"}},
  {"data":{"values":[{"x":647,"x2":691,"y":200,"y2":212}]},"mark":{"type":"rect","fill":"#000000"},"encoding":{"x2":{"field":"x2"},"y2":{"field":"y2"}}},
  {"data":{"values":[{"x":697,"y":206}]},"mark":{"type":"point","filled":true,"fill":"#000000","opacity":1,"size":729,"shape":"M-0.5,-1 L0.5,0 L-0.5,1 Z"}},
  {"data":{"values":[{"x":200,"y":481},{"x":200,"y":490},{"x":200,"y":498},{"x":1002,"y":450},{"x":1002,"y":458},{"x":1002,"y":467}]},"mark":{"type":"point","shape":"square","filled":true,"fill":"#000000","opacity":1,"size":8}},
  {"data":{"values":[{"x":208,"y":40,"text":"F0 of extra neutral voice"},{"x":208,"y":68,"text":"data"},{"x":209,"y":139,"text":"Manual"},{"x":209,"y":167,"text":"segmentation"},{"x":560,"y":66,"text":"Thresholding"},{"x":562,"y":381,"text":"Multinomial"},{"x":562,"y":408,"text":"distribution"},{"x":990,"y":22,"text":"F0 of the training data"}]},"mark":{"type":"text","font":"Lato","fontSize":22,"align":"center","baseline":"middle","color":"#000"},"encoding":{"text":{"field":"text"}}},
  {"data":{"values":[{"x":560,"y":93,"text":"(O[x*]>50%)"}]},"mark":{"type":"text","font":"Lato","fontSize":22,"fontStyle":"italic","align":"center","baseline":"middle","color":"#000"},"encoding":{"text":{"field":"text"}}},
  {"data":{"values":[{"x":560,"y":193,"text":"Adaptive"},{"x":560,"y":221,"text":"scales"}]},"mark":{"type":"text","font":"Lato","fontSize":22,"fontWeight":"bold","align":"center","baseline":"middle","color":"#000"},"encoding":{"text":{"field":"text"}}},
  {"data":{"values":[{"x":498,"y":488,"text":"Influencing"},{"x":498,"y":516,"text":"strength ("},{"x":607,"y":516,"text":")"}]},"mark":{"type":"text","font":"Lato","fontSize":22,"fontStyle":"italic","align":"left","baseline":"middle","color":"#000"},"encoding":{"text":{"field":"text"}}},
  {"data":{"values":[{"x":583,"y":516,"text":"P"}]},"mark":{"type":"text","font":"Lato","fontSize":22,"fontStyle":"italic","fontWeight":"bold","align":"left","baseline":"middle","color":"#000"},"encoding":{"text":{"field":"text"}}},
  {"data":{"values":[{"x":597,"y":520,"text":"U"}]},"mark":{"type":"text","font":"Lato","fontSize":14,"fontStyle":"italic","fontWeight":"bold","align":"left","baseline":"middle","color":"#000"},"encoding":{"text":{"field":"text"}}},
  {"data":{"values":[{"x":945,"y":63,"text":"CWT"}]},"mark":{"type":"text","font":"Lato","fontSize":20,"align":"center","baseline":"middle","color":"#000"},"encoding":{"text":{"field":"text"}}},
  {"data":{"values":[{"x":344,"y":281,"text":"1)"},{"x":668,"y":279,"text":"3)"},{"x":668,"y":640,"text":"2)"}]},"mark":{"type":"text","font":"Lato","fontSize":28,"align":"center","baseline":"middle","color":"#000"},"encoding":{"text":{"field":"text"}}},
  {"data":{"values":[{"x":827,"y":446,"text":"CWT-F0 word level"},{"x":827,"y":471,"text":"CWT-F0 syllable level"}]},"mark":{"type":"text","font":"Lato","fontSize":14,"align":"left","baseline":"middle","color":"#000"},"encoding":{"text":{"field":"text"}}},
  {"data":{"values":[{"x":74,"y":360,"text":"W"},{"x":100,"y":360,"text":"(U[X"},{"x":162,"y":360,"text":"])"},{"x":160,"y":407,"text":"W"},{"x":190,"y":407,"text":"(U[X"},{"x":252,"y":407,"text":"])"},{"x":83,"y":586,"text":"W"},{"x":113,"y":586,"text":"(U[X"},{"x":189,"y":586,"text":"])"},{"x":223,"y":586,"text":"W"},{"x":253,"y":586,"text":"(U[X"},{"x":329,"y":586,"text":"])"}]},"mark":{"type":"text","font":"Liberation Serif","fontSize":24,"fontStyle":"italic","align":"left","baseline":"alphabetic","color":"#000"},"encoding":{"text":{"field":"text"}}},
  {"data":{"values":[{"x":94,"y":343,"text":"i"},{"x":90,"y":370,"text":"N"},{"x":153,"y":367,"text":"s"},{"x":180,"y":390,"text":"i"},{"x":176,"y":417,"text":"E"},{"x":243,"y":414,"text":"s"},{"x":103,"y":569,"text":"i"},{"x":99,"y":596,"text":"N"},{"x":162,"y":593,"text":"pho"},{"x":243,"y":569,"text":"i"},{"x":239,"y":596,"text":"E"},{"x":302,"y":593,"text":"pho"}]},"mark":{"type":"text","font":"Liberation Serif","fontSize":14,"fontStyle":"italic","align":"left","baseline":"alphabetic","color":"#000"},"encoding":{"text":{"field":"text"}}},
  {"data":{"values":[{"x":207,"y":261,"text":"U[x*] Γ[x*]"}]},"mark":{"type":"text","font":"Liberation Serif","fontSize":27,"fontStyle":"italic","align":"center","baseline":"alphabetic","color":"#000"},"encoding":{"text":{"field":"text"}}},
  {"data":{"values":[{"x":333,"y":158,"text":"N(O[x*],U[x*],Γ[x*])"},{"x":397,"y":480,"text":"R(U[x*])"}]},"mark":{"type":"text","font":"Liberation Serif","fontSize":20,"fontStyle":"italic","align":"left","baseline":"alphabetic","color":"#000"},"encoding":{"text":{"field":"text"}}},
  {"data":{"values":[{"x":1012,"y":111,"text":"λ"},{"x":1019,"y":288,"text":"λ"},{"x":1017,"y":522,"text":"λ"}]},"mark":{"type":"text","font":"Liberation Serif","fontSize":30,"fontStyle":"italic","align":"left","baseline":"alphabetic","color":"#000"},"encoding":{"text":{"field":"text"}}},
  {"data":{"values":[{"x":1029,"y":120,"text":"X"},{"x":1036,"y":297,"text":"X"},{"x":1035,"y":531,"text":"X"}]},"mark":{"type":"text","font":"Liberation Serif","fontSize":18,"fontStyle":"italic","align":"left","baseline":"alphabetic","color":"#000"},"encoding":{"text":{"field":"text"}}},
  {"data":{"values":[{"x":1048,"y":124,"text":"s"},{"x":1055,"y":300,"text":"p"},{"x":1054,"y":535,"text":"pho"}]},"mark":{"type":"text","font":"Liberation Serif","fontSize":12,"fontStyle":"italic","align":"left","baseline":"alphabetic","color":"#000"},"encoding":{"text":{"field":"text"}}},
  {"data":{"values":[{"x":1066,"y":110,"text":"= 3"},{"x":1071,"y":288,"text":"= 4"}]},"mark":{"type":"text","font":"Liberation Serif","fontSize":24,"align":"left","baseline":"alphabetic","color":"#000"},"encoding":{"text":{"field":"text"}}},
  {"data":{"values":[{"x":1083,"y":522,"text":"= 4"}]},"mark":{"type":"text","font":"Liberation Serif","fontSize":30,"align":"left","baseline":"alphabetic","color":"#000"},"encoding":{"text":{"field":"text"}}},
  {"data":{"values":[{"x":584,"y":152,"text":"X"}]},"mark":{"type":"text","font":"Lato","fontSize":26,"fontStyle":"italic","fontWeight":"bold","align":"center","baseline":"alphabetic","color":"#000"},"encoding":{"text":{"field":"text"}}},
  {"data":{"values":[{"x":572,"y":270,"text":"λ"}]},"mark":{"type":"text","font":"DejaVu Sans","fontSize":20,"fontWeight":"bold","align":"left","baseline":"alphabetic","color":"#000"},"encoding":{"text":{"field":"text"}}},
  {"data":{"values":[{"x":585,"y":278,"text":"X"}]},"mark":{"type":"text","font":"Lato","fontSize":17,"fontStyle":"italic","fontWeight":"bold","align":"left","baseline":"alphabetic","color":"#000"},"encoding":{"text":{"field":"text"}}}
 ]}
]
}
